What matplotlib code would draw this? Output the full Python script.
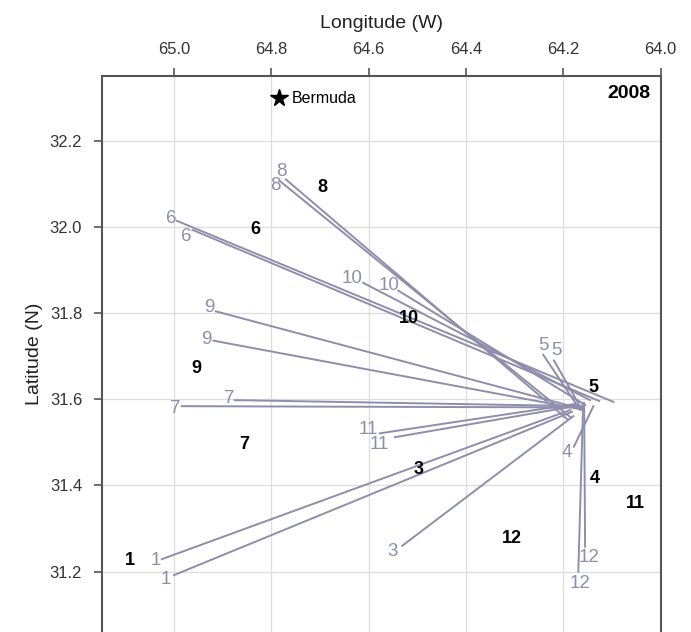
import matplotlib
matplotlib.use('Agg')
import matplotlib.pyplot as plt

# Set the plot style
plt.rcParams['font.family'] = ['Liberation Sans', 'DejaVu Sans']
plt.rcParams['font.size'] = 11

# Track segments: one per month code (start is the labelled end)
months = ['1', '1', '3', '4', '5', '5', '6', '6', '7', '7',
          '8', '8', '9', '9', '10', '10', '11', '11', '12', '12']
start_lon = [65.025, 65.000, 64.531, 64.178, 64.241, 64.219, 64.994, 64.962, 64.984, 64.875,
             64.770, 64.781, 64.914, 64.919, 64.611, 64.539, 64.577, 64.546, 64.155, 64.169]
start_lat = [31.229, 31.192, 31.260, 31.490, 31.703, 31.690, 32.014, 31.993, 31.584, 31.598,
             32.110, 32.105, 31.804, 31.736, 31.870, 31.852, 31.521, 31.512, 31.258, 31.200]
end_lon = [64.186, 64.182, 64.179, 64.138, 64.165, 64.162, 64.097, 64.126, 64.161, 64.161,
           64.192, 64.186, 64.170, 64.165, 64.145, 64.155, 64.176, 64.176, 64.157, 64.159]
end_lat = [31.575, 31.571, 31.561, 31.584, 31.575, 31.577, 31.594, 31.596, 31.581, 31.584,
           31.554, 31.559, 31.580, 31.577, 31.598, 31.587, 31.589, 31.584, 31.591, 31.591]
label_lon = [65.037, 65.016, 64.550, 64.193, 64.241, 64.213, 65.006, 64.975, 64.998, 64.887,
             64.779, 64.791, 64.927, 64.933, 64.633, 64.557, 64.601, 64.577, 64.146, 64.165]
label_lat = [31.227, 31.181, 31.246, 31.476, 31.724, 31.713, 32.020, 31.977, 31.579, 31.602,
             32.128, 32.097, 31.813, 31.739, 31.881, 31.865, 31.529, 31.494, 31.233, 31.173]

# Black month labels
mean_month = ['1', '3', '4', '5', '6', '7', '8', '9', '10', '11', '12']
mean_lon = [65.090, 64.498, 64.136, 64.137, 64.832, 64.855, 64.696, 64.955, 64.518, 64.051, 64.305]
mean_lat = [31.227, 31.438, 31.417, 31.627, 31.993, 31.496, 32.092, 31.672, 31.788, 31.357, 31.277]

# Bermuda location
bermuda_lon = 64.784
bermuda_lat = 32.298

line_color = '#8e8eac'

# Create the plot
fig = plt.figure(figsize=(6.91, 6.32), dpi=100)
ax = fig.add_axes([0.1469, 0.0, 0.809, 0.8797])

for i in range(len(months)):
    ax.plot([start_lon[i], end_lon[i]], [start_lat[i], end_lat[i]],
            color=line_color, linewidth=1.4, zorder=2)
    ax.text(label_lon[i], label_lat[i], months[i], color=line_color,
            fontsize=13.5, ha='center', va='center', zorder=3)

for i in range(len(mean_month)):
    ax.text(mean_lon[i], mean_lat[i], mean_month[i], color='black',
            fontsize=13, fontweight='bold', ha='center', va='center', zorder=3)

ax.plot(bermuda_lon, bermuda_lat, marker='*', color='black', markersize=13,
        linestyle='none', zorder=3)
ax.text(bermuda_lon - 0.026, bermuda_lat, 'Bermuda', fontsize=11.5,
        ha='left', va='center', color='black')

ax.text(0.9825, 0.969, '2008', transform=ax.transAxes, fontsize=14,
        fontweight='bold', ha='right', va='center')

# Axes limits and ticks
ax.set_xlim(65.149, 64.0)
ax.set_ylim(31.06, 32.35)
ax.set_xticks([65.0, 64.8, 64.6, 64.4, 64.2, 64.0])
ax.set_xticklabels(['65.0', '64.8', '64.6', '64.4', '64.2', '64.0'])
ax.set_yticks([31.2, 31.4, 31.6, 31.8, 32.0, 32.2])
ax.set_yticklabels(['31.2', '31.4', '31.6', '31.8', '32.0', '32.2'])
ax.xaxis.tick_top()
ax.xaxis.set_label_position('top')
ax.tick_params(axis='x', direction='out', length=6, width=1.2, color='#555555',
               labelcolor='#333333', labelsize=12, pad=8,
               top=True, bottom=False)
ax.tick_params(axis='y', direction='out', length=6, width=1.2, color='#555555',
               labelcolor='#333333', labelsize=12, pad=8,
               left=True, right=False)
ax.grid(True, color='#dddddd', linewidth=0.9, zorder=0)
ax.set_axisbelow(True)

for side in ['top', 'left', 'right']:
    ax.spines[side].set_color('#555555')
    ax.spines[side].set_linewidth(1.5)
ax.spines['bottom'].set_visible(False)

# Set the plot labels
ax.set_xlabel('Longitude (W)', fontsize=14, labelpad=10, color='#222222')
ax.set_ylabel('Latitude (N)', fontsize=14, labelpad=5, color='#222222')

# Save the plot to a file
fig.savefig('out.png', dpi=100)
